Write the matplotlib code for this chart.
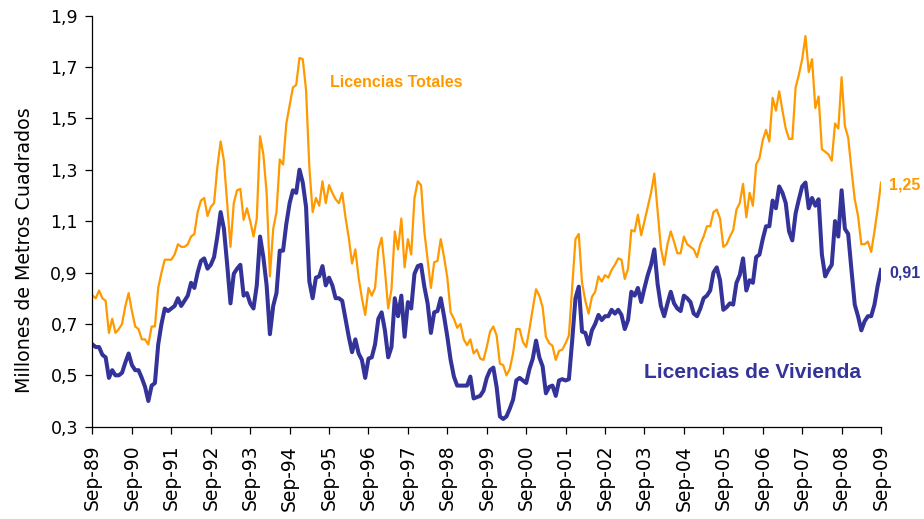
import matplotlib
matplotlib.use("Agg")
import matplotlib.pyplot as plt
import numpy as np

# Monthly series Sep-89 .. Sep-09 (millions of m2)
totales = [
    0.81, 0.80, 0.83, 0.80, 0.79, 0.665, 0.72, 0.665, 0.68, 0.70, 0.77, 0.82, 0.75, 0.69, 0.68, 0.64,
    0.64, 0.62, 0.69, 0.69, 0.84, 0.90, 0.95, 0.95, 0.95, 0.97, 1.01, 1.00, 1.00, 1.01, 1.04,
    1.05, 1.135, 1.18, 1.19, 1.12, 1.155, 1.17, 1.31, 1.41, 1.335, 1.17, 1.00, 1.17, 1.22, 1.225,
    1.105, 1.15, 1.10, 1.04, 1.11, 1.43, 1.36, 1.21, 0.885, 1.07, 1.135, 1.34, 1.32, 1.48, 1.55,
    1.62, 1.63, 1.735, 1.73, 1.61, 1.31, 1.135, 1.19, 1.16, 1.255, 1.17, 1.24, 1.21, 1.185, 1.17,
    1.21, 1.115, 1.035, 0.935, 0.99, 0.88, 0.80, 0.735, 0.84, 0.81, 0.84, 0.99, 1.035, 0.91, 0.76,
    0.835, 1.06, 0.99, 1.11, 0.92, 1.03, 0.97, 1.19, 1.255, 1.24, 1.06, 0.95, 0.84, 0.94, 0.945,
    1.03, 0.96, 0.88, 0.745, 0.72, 0.685, 0.70, 0.64, 0.617, 0.64, 0.585, 0.60, 0.565, 0.56, 0.61,
    0.67, 0.69, 0.655, 0.545, 0.54, 0.50, 0.525, 0.585, 0.68, 0.68, 0.63, 0.61, 0.68, 0.76, 0.835,
    0.81, 0.765, 0.65, 0.625, 0.615, 0.56, 0.595, 0.60, 0.625, 0.655, 0.845, 1.03, 1.05, 0.86, 0.79,
    0.74, 0.805, 0.825, 0.885, 0.865, 0.89, 0.88, 0.91, 0.93, 0.955, 0.95, 0.875, 0.915, 1.065, 1.06,
    1.125, 1.045, 1.10, 1.155, 1.21, 1.285, 1.14, 0.995, 0.93, 1.01, 1.06, 1.02, 0.975, 0.975, 1.04,
    1.01, 1.00, 0.99, 0.96, 1.01, 1.04, 1.08, 1.08, 1.135, 1.145, 1.11, 1.00, 1.01, 1.04, 1.065,
    1.145, 1.17, 1.245, 1.115, 1.21, 1.16, 1.32, 1.345, 1.415, 1.455, 1.41, 1.58, 1.53, 1.605, 1.53,
    1.46, 1.42, 1.42, 1.62, 1.67, 1.73, 1.82, 1.68, 1.73, 1.54, 1.585, 1.38, 1.37, 1.36, 1.335,
    1.48, 1.46, 1.66, 1.47, 1.425, 1.30, 1.185, 1.12, 1.01, 1.01, 1.02, 0.98, 1.06, 1.15, 1.25,
]

vivienda = [
    0.62, 0.61, 0.61, 0.58, 0.57, 0.49, 0.52, 0.50, 0.50, 0.51, 0.55, 0.585, 0.54, 0.52, 0.52, 0.49,
    0.455, 0.40, 0.46, 0.47, 0.62, 0.70, 0.76, 0.75, 0.76, 0.77, 0.80, 0.77, 0.79, 0.81, 0.86,
    0.84, 0.90, 0.945, 0.955, 0.915, 0.93, 0.96, 1.04, 1.135, 1.07, 0.93, 0.78, 0.895, 0.915, 0.93,
    0.81, 0.82, 0.78, 0.76, 0.85, 1.04, 0.96, 0.85, 0.66, 0.77, 0.82, 0.985, 0.985, 1.09, 1.17,
    1.22, 1.21, 1.30, 1.25, 1.155, 0.865, 0.80, 0.88, 0.885, 0.925, 0.85, 0.88, 0.85, 0.80, 0.80,
    0.79, 0.72, 0.65, 0.59, 0.64, 0.585, 0.56, 0.49, 0.565, 0.57, 0.62, 0.72, 0.745, 0.675, 0.57,
    0.61, 0.80, 0.73, 0.81, 0.65, 0.785, 0.76, 0.895, 0.925, 0.93, 0.845, 0.78, 0.665, 0.745, 0.75,
    0.80, 0.73, 0.65, 0.56, 0.495, 0.46, 0.46, 0.46, 0.46, 0.495, 0.41, 0.415, 0.42, 0.44, 0.49,
    0.52, 0.53, 0.455, 0.34, 0.33, 0.34, 0.37, 0.405, 0.48, 0.49, 0.48, 0.47, 0.525, 0.565, 0.635,
    0.57, 0.535, 0.43, 0.455, 0.46, 0.42, 0.48, 0.485, 0.48, 0.485, 0.635, 0.80, 0.845, 0.67, 0.665,
    0.62, 0.675, 0.70, 0.735, 0.715, 0.73, 0.73, 0.755, 0.74, 0.755, 0.735, 0.68, 0.715, 0.825, 0.81,
    0.84, 0.785, 0.84, 0.89, 0.93, 0.99, 0.855, 0.77, 0.73, 0.78, 0.825, 0.78, 0.76, 0.75, 0.81,
    0.80, 0.785, 0.74, 0.73, 0.76, 0.80, 0.81, 0.83, 0.90, 0.92, 0.87, 0.755, 0.765, 0.78, 0.775,
    0.86, 0.89, 0.955, 0.83, 0.87, 0.86, 0.96, 0.97, 1.03, 1.08, 1.08, 1.18, 1.15, 1.235, 1.21,
    1.17, 1.06, 1.025, 1.13, 1.185, 1.235, 1.25, 1.15, 1.19, 1.16, 1.185, 0.97, 0.885, 0.91, 0.93,
    1.10, 1.04, 1.22, 1.07, 1.05, 0.91, 0.775, 0.73, 0.675, 0.71, 0.73, 0.73, 0.775, 0.85, 0.91,
]

x_tick_labels = ["Sep-89", "Sep-90", "Sep-91", "Sep-92", "Sep-93", "Sep-94", "Sep-95",
                 "Sep-96", "Sep-97", "Sep-98", "Sep-99", "Sep-00", "Sep-01", "Sep-02",
                 "Sep-03", "Sep-04", "Sep-05", "Sep-06", "Sep-07", "Sep-08", "Sep-09"]
y_ticks = [0.3, 0.5, 0.7, 0.9, 1.1, 1.3, 1.5, 1.7, 1.9]
y_tick_labels = ["0,3", "0,5", "0,7", "0,9", "1,1", "1,3", "1,5", "1,7", "1,9"]

label_totales = "Licencias Totales"
label_vivienda = "Licencias de Vivienda"
last_totales = "1,25"
last_vivienda = "0,91"

ORANGE = "#FF9900"
NAVY = "#333399"

plt.rcParams['font.family'] = ['Liberation Sans', 'DejaVu Sans']

fig = plt.figure(figsize=(9.24, 5.19), dpi=100)
ax = fig.add_axes([0.1001, 0.1778, 0.8534, 0.7923])

months = np.arange(len(totales))
ax.plot(months, totales, color=ORANGE, lw=1.6, solid_joinstyle='round')
ax.plot(months, vivienda, color=NAVY, lw=2.9, solid_joinstyle='round')

ax.set_xlim(0, len(totales) - 1)
ax.set_ylim(0.3, 1.9)
ax.set_xticks(np.arange(0, len(totales), 12))
ax.set_xticklabels(x_tick_labels, rotation=90, fontsize=13.5, family='DejaVu Sans')
ax.set_yticks(y_ticks)
ax.set_yticklabels(y_tick_labels, fontsize=12.5, family='DejaVu Sans')
ax.tick_params(axis='both', direction='out', length=5, width=0.9, colors='black')
ax.tick_params(axis='y', pad=5.5)
ax.tick_params(axis='x', pad=8)
ax.set_ylabel("Millones de Metros Cuadrados", fontsize=13.7, family='DejaVu Sans')
ax.yaxis.set_label_coords(-0.0742, 0.43)

for s in ['top', 'right']:
    ax.spines[s].set_visible(False)
for s in ['left', 'bottom']:
    ax.spines[s].set_linewidth(0.9)
ax.patch.set_alpha(0)

ax.text(92.4, 1.639, label_totales, color=ORANGE, fontsize=11.5, fontweight='bold',
        ha='center', va='center')
ax.text(201, 0.512, label_vivienda, color=NAVY, fontsize=15, fontweight='bold',
        ha='center', va='center')
ax.text(242.5, totales[-1] - 0.01, last_totales, color=ORANGE, fontsize=11.5, fontweight='bold',
        ha='left', va='center', clip_on=False)
ax.text(242.5, vivienda[-1] - 0.01, last_vivienda, color=NAVY, fontsize=11.5, fontweight='bold',
        ha='left', va='center', clip_on=False)

fig.savefig("out.png", dpi=100)
